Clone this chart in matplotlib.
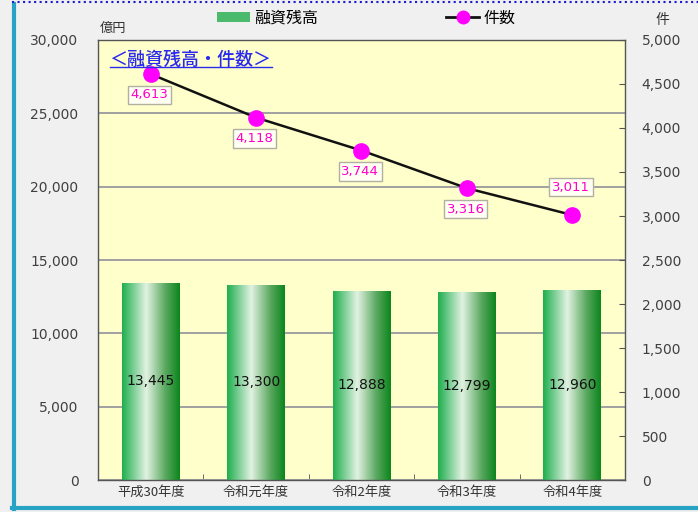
import matplotlib
matplotlib.use("Agg")
import matplotlib.pyplot as plt
import numpy as np
from matplotlib.colors import LinearSegmentedColormap
from matplotlib.lines import Line2D
from matplotlib.patches import Patch

plt.rcParams['font.family'] = ['DejaVu Sans', 'Noto Sans CJK JP']
JP = ['Noto Sans CJK JP', 'DejaVu Sans']

categories = ['平成30年度', '令和元年度', '令和2年度', '令和3年度', '令和4年度']
balance = [13445, 13300, 12888, 12799, 12960]
counts = [4613, 4118, 3744, 3316, 3011]
left_ticks = [0, 5000, 10000, 15000, 20000, 25000, 30000]
right_ticks = list(range(0, 5001, 500))

fig = plt.figure(figsize=(6.98, 5.12), dpi=100)
fig.patch.set_facecolor('#f0f0f0')

L, R, B, T = 98/698, 625/698, 1 - 480/512, 1 - 40/512
ax = fig.add_axes([L, B, R - L, T - B])
ax.set_facecolor('#ffffcc')
x = np.arange(len(categories))
ax.set_xlim(-0.5, len(categories) - 0.5)
ax.set_ylim(0, 30000)
ax.set_yticks(left_ticks)
ax.set_yticklabels([f'{v:,}' for v in left_ticks], fontsize=10, color='#404040')
ax.tick_params(axis='y', length=0, pad=14)
ax.set_xticks(x)
ax.set_xticklabels(categories, fontsize=9.5, color='#333333', family=JP)
ax.tick_params(axis='x', length=0, pad=4)
ax.set_xticks(np.arange(len(categories) + 1) - 0.5, minor=True)
ax.tick_params(axis='x', which='minor', direction='in', length=4, color='#555555')
ax.grid(axis='y', color='#a0a0a0', linewidth=1.4)
ax.set_axisbelow(True)
for s in ax.spines.values():
    s.set_color('#555555')
    s.set_linewidth(1.0)

cmap = LinearSegmentedColormap.from_list('g', [(0, '#1eae4e'), (0.42, '#e2f2e2'), (0.75, '#5aa860'), (1.0, '#0b851c')])
grad = np.linspace(0, 1, 256).reshape(1, -1)
bars = ax.bar(x, balance, width=0.55, color='none', edgecolor='none', zorder=2)
for b, v in zip(bars, balance):
    x0, w, h = b.get_x(), b.get_width(), b.get_height()
    im = ax.imshow(grad, cmap=cmap, extent=[x0, x0 + w, 0, h], aspect='auto', zorder=2, interpolation='bicubic')
    im.set_clip_path(b)
    ax.text(x0 + w / 2, h / 2, f'{v:,}', ha='center', va='center', fontsize=10, color='#111111', zorder=3)
ax.set_xlim(-0.5, len(categories) - 0.5)
ax.set_ylim(0, 30000)

ax2 = ax.twinx()
ax2.set_ylim(0, 5000)
ax2.set_yticks(right_ticks)
ax2.set_yticklabels([f'{v:,}' for v in right_ticks], fontsize=10, color='#404040')
ax2.tick_params(axis='y', direction='in', length=4, color='#555555', pad=12)
for s in ax2.spines.values():
    s.set_visible(False)
ax2.plot(x, counts, color='#111111', linewidth=1.8, marker='o', markersize=11,
         markerfacecolor='#ff00ff', markeredgecolor='#ff00ff', zorder=5)
for i, c in enumerate(counts):
    dy = 20 if i == len(counts) - 1 else -15
    ax2.annotate(f'{c:,}', (x[i], c), xytext=(-1, dy), textcoords='offset points',
                 ha='center', va='center', fontsize=9.5, color='#ff00cc',
                 bbox=dict(boxstyle='square,pad=0.2', fc='#fffff4', ec='#b0b0a0', lw=1.0), zorder=6)

title = ax.text(0.022, 0.955, '＜融資残高・件数＞', transform=ax.transAxes, fontsize=13,
                color='#2a2aee', ha='left', va='center', family=JP, fontweight='medium')
fig.canvas.draw()
bb = title.get_window_extent().transformed(fig.transFigure.inverted())
fig.add_artist(Line2D([bb.x0, bb.x1], [bb.y0 + 0.003, bb.y0 + 0.003], color='#2a2aee', lw=1.0, transform=fig.transFigure))

fig.text(100/698, 1 - 28/512, '億円', fontsize=9.5, color='#333333', ha='left', va='center', family=JP)
fig.text(662/698, 1 - 20/512, '件', fontsize=10, color='#333333', ha='center', va='center', family=JP)

handles = [Patch(facecolor='#4cba6c', edgecolor='none'),
           Line2D([0], [0], color='#111111', lw=2, marker='o', markersize=9,
                  markerfacecolor='#ff00ff', markeredgecolor='#ff00ff')]
fig.legend(handles, ['融資残高', '件数'], loc='center', bbox_to_anchor=(366/698, 1 - 18/512), ncol=2,
           frameon=False, prop={'family': JP, 'size': 11.5}, columnspacing=8.0, handlelength=2.1,
           handletextpad=0.25, handleheight=0.55)

# outer frame
fig.add_artist(Line2D([13.5/698, 13.5/698], [1 - 4/512, 1 - 509/512], color='#27a3c6', lw=3, transform=fig.transFigure))
fig.add_artist(Line2D([12/698, 1], [1 - 508/512, 1 - 508/512], color='#27a3c6', lw=3, transform=fig.transFigure))
fig.add_artist(Line2D([12/698, 1], [1 - 2/512, 1 - 2/512], color='#1a1ad0', lw=1.5, ls=':', transform=fig.transFigure))

fig.savefig('out.png', dpi=100, facecolor=fig.get_facecolor())
